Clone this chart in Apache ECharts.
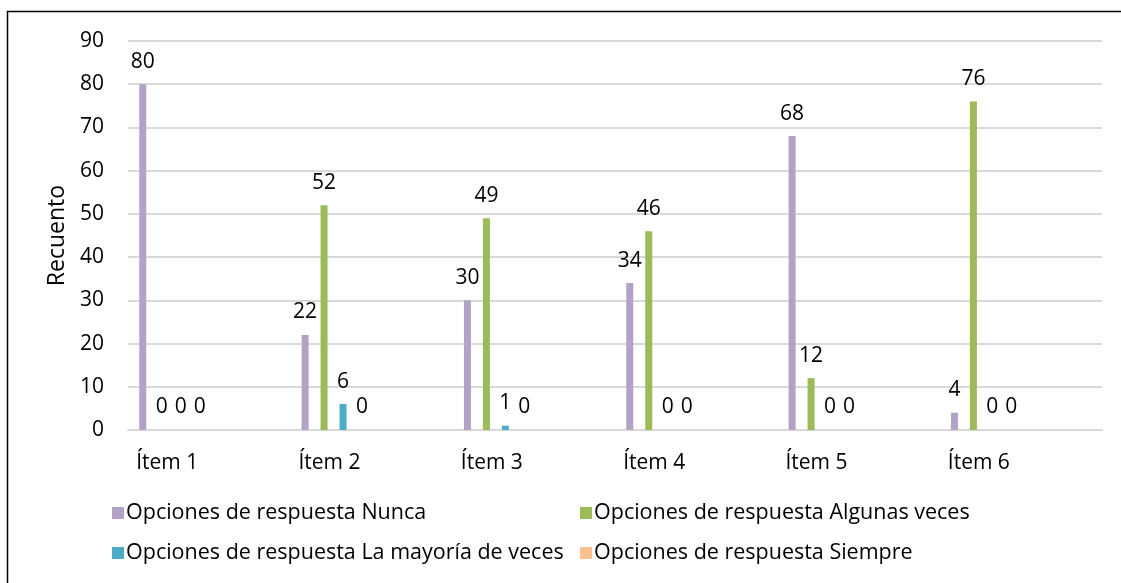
<!DOCTYPE html>
<html>
<head>
<meta charset="utf-8">
<script src="https://cdn.jsdelivr.net/npm/echarts@6/dist/echarts.min.js"></script>
<style>
html,body{margin:0;padding:0;background:#fff;overflow:hidden;}
#chart{width:1121px;height:583px;}
</style>
</head>
<body>
<div id="chart"></div>
<script>
const categories = ['Ítem 1', 'Ítem 2', 'Ítem 3', 'Ítem 4', 'Ítem 5', 'Ítem 6'];
const nunca = [80, 22, 30, 34, 68, 4];
const algunas = [0, 52, 49, 46, 12, 76];
const mayoria = [0, 6, 1, 0, 0, 0];
const siempre = [0, 0, 0, 0, 0, 0];
const seriesNames = [
  'Opciones de respuesta Nunca',
  'Opciones de respuesta Algunas veces',
  'Opciones de respuesta La mayoría de veces',
  'Opciones de respuesta Siempre'
];
const yTicks = { min: 0, max: 90, interval: 10 };

const FONT = 'Open Sans';
const FS = 21;
const colors = ['#B2A2C7', '#9BBB59', '#4BACC6', '#FAC090'];
const emptyData = categories.map(() => null);

function barSeries(name, data, color) {
  return {
    name: name,
    type: 'bar',
    data: data,
    barWidth: 7,
    barGap: '171%',
    itemStyle: { color: color },
    label: {
      show: true, position: 'top', distance: 12,
      fontFamily: FONT, fontSize: FS, color: '#000'
    },
    emphasis: { disabled: true }
  };
}
function emptySeries(i) {
  return { name: 'empty' + i, type: 'bar', data: emptyData, barWidth: 7, barGap: '171%', silent: true };
}

const chart = echarts.init(document.getElementById('chart'));
chart.setOption({
  animation: false,
  textStyle: { fontFamily: FONT },
  graphic: [{
    type: 'rect', shape: { x: 7.5, y: 11.5, width: 1300, height: 800 },
    style: { fill: 'none', stroke: '#000', lineWidth: 1.5 }, silent: true
  }],
  grid: { left: 128, right: 19, top: 41, bottom: 153, containLabel: false },
  legend: [{
    data: [seriesNames[0], seriesNames[2]],
    orient: 'vertical', left: 107, top: 494, itemGap: 12,
    itemWidth: 12, itemHeight: 12, icon: 'rect',
    textStyle: { fontFamily: FONT, fontSize: 21.5, color: '#000', padding: [0, 0, 0, -3], lineHeight: 28 }
  }, {
    data: [seriesNames[1], seriesNames[3]],
    orient: 'vertical', left: 575, top: 494, itemGap: 12,
    itemWidth: 12, itemHeight: 12, icon: 'rect',
    textStyle: { fontFamily: FONT, fontSize: 21.5, color: '#000', padding: [0, 0, 0, -3], lineHeight: 28 }
  }],
  xAxis: {
    type: 'category', data: categories,
    axisLine: { lineStyle: { color: '#D9D9D9', width: 2 } },
    axisTick: { show: false },
    axisLabel: { fontFamily: FONT, fontSize: FS, color: '#000', margin: 23, padding: [0, 84, 0, 0] }
  },
  yAxis: {
    type: 'value', min: yTicks.min, max: yTicks.max, interval: yTicks.interval,
    name: 'Recuento', nameLocation: 'middle', nameGap: 58, nameRotate: 90,
    nameTextStyle: { fontFamily: FONT, fontSize: 23, color: '#000' },
    axisLine: { show: false }, axisTick: { show: false },
    axisLabel: { fontFamily: FONT, fontSize: FS, color: '#000', margin: 24 },
    splitLine: { lineStyle: { color: '#D9D9D9', width: 2 } }
  },
  series: [
    barSeries(seriesNames[0], nunca, colors[0]),
    barSeries(seriesNames[1], algunas, colors[1]),
    barSeries(seriesNames[2], mayoria, colors[2]),
    barSeries(seriesNames[3], siempre, colors[3]),
    emptySeries(1), emptySeries(2), emptySeries(3), emptySeries(4)
  ]
});
</script>
</body>
</html>
